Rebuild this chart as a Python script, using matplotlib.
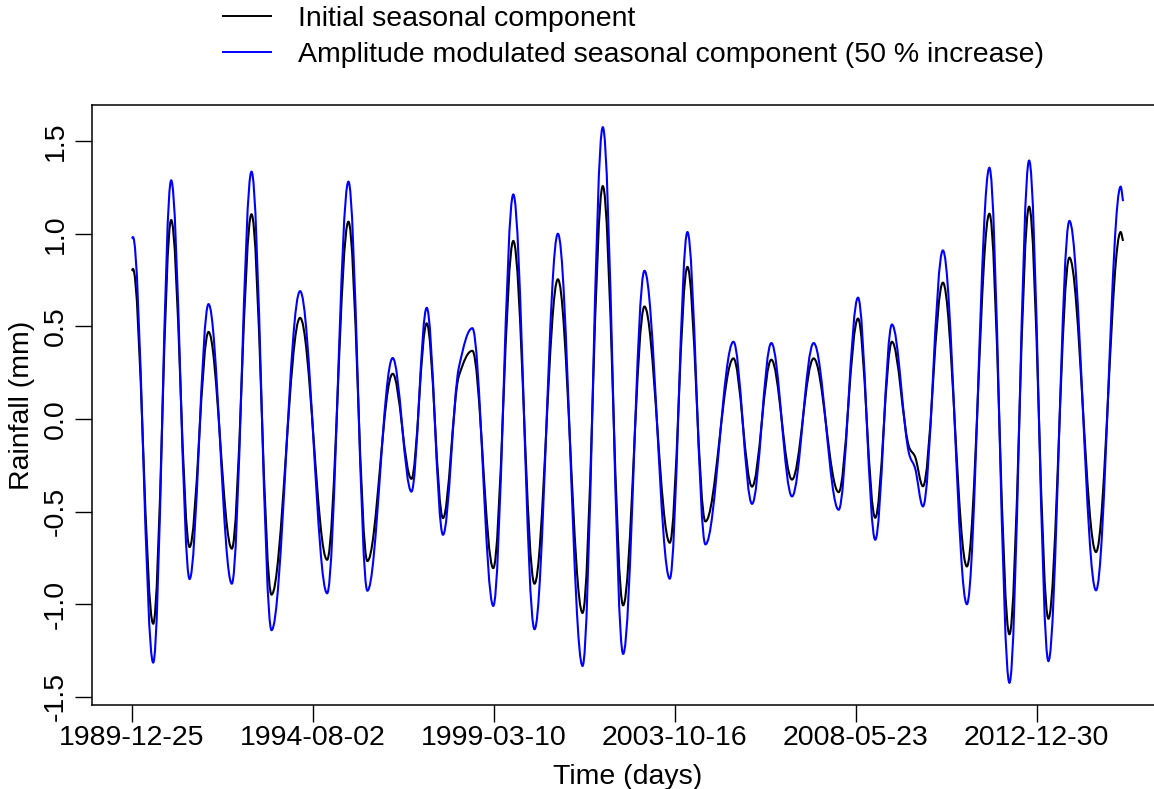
import numpy as np
import matplotlib
matplotlib.use('Agg')
import matplotlib.pyplot as plt
from matplotlib.path import Path
from matplotlib.patches import PathPatch
from matplotlib.lines import Line2D

plt.rcParams['font.family'] = ['Liberation Sans', 'DejaVu Sans']

# Turning points: day index (days since 1989-12-25)
days = [0, 12, 200, 367, 538, 714, 930, 1113, 1299, 1564, 1815, 2013, 2189,
        2424, 2598, 2740, 2891, 3039, 3164, 3358, 3544, 3741, 3958, 4187, 4375,
        4564, 4762, 4997, 5161, 5328, 5588, 5761, 5940, 6132, 6333, 6565, 6745,
        6905, 7060, 7225, 7272, 7348, 7533, 7756, 7965, 8151, 8334, 8513, 8708,
        8955, 9184, 9206]

initial_seasonal = [0.80, 0.81, -1.105, 1.074, -0.691, 0.47, -0.70, 1.105, -0.948,
                    0.546, -0.76, 1.065, -0.767, 0.244, -0.323, 0.516, -0.535, 0.233,
                    0.368, -0.805, 0.961, -0.889, 0.754, -1.047, 1.257, -1.006, 0.607,
                    -0.668, 0.821, -0.553, 0.327, -0.365, 0.32, -0.327, 0.327, -0.395,
                    0.542, -0.533, 0.417, -0.16, -0.20, -0.363, 0.736, -0.796, 1.108,
                    -1.162, 1.146, -1.078, 0.871, -0.718, 1.009, 0.961]

modulated_seasonal = [0.975, 0.982, -1.315, 1.288, -0.864, 0.62, -0.889, 1.335, -1.14,
                      0.69, -0.941, 1.281, -0.927, 0.329, -0.392, 0.60, -0.625, 0.28,
                      0.49, -1.009, 1.212, -1.135, 1.0, -1.333, 1.575, -1.268, 0.80,
                      -0.862, 1.009, -0.677, 0.417, -0.458, 0.41, -0.418, 0.41, -0.49,
                      0.655, -0.652, 0.51, -0.20, -0.26, -0.472, 0.91, -1.0, 1.356,
                      -1.424, 1.395, -1.307, 1.069, -0.925, 1.254, 1.176]

tick_days = [0, 1681, 3362, 5043, 6724, 8405]
tick_labels = ['1989-12-25', '1994-08-02', '1999-03-10', '2003-10-16',
               '2008-05-23', '2012-12-30']
y_ticks = [-1.5, -1.0, -0.5, 0.0, 0.5, 1.0, 1.5]
y_tick_labels = ['-1.5', '-1.0', '-0.5', '0.0', '0.5', '1.0', '1.5']
legend_labels = ['Initial seasonal component',
                 'Amplitude modulated seasonal component (50 % increase)']

FS = 20.5


def smooth_path(x, y, k=0.36):
    """Smooth Bezier path passing through the read turning points."""
    x = np.asarray(x, float)
    y = np.asarray(y, float)
    h = np.diff(x)
    d = np.diff(y) / h
    m = np.zeros_like(y)
    for i in range(1, len(y) - 1):
        if d[i - 1] * d[i] > 0:
            w1 = 2 * h[i] + h[i - 1]
            w2 = h[i] + 2 * h[i - 1]
            m[i] = (w1 + w2) / (w1 / d[i - 1] + w2 / d[i])
    m[-1] = d[-1]
    verts = [(x[0], y[0])]
    codes = [Path.MOVETO]
    for i in range(len(h)):
        verts.append((x[i] + k * h[i], y[i] + k * h[i] * m[i]))
        verts.append((x[i + 1] - k * h[i], y[i + 1] - k * h[i] * m[i + 1]))
        verts.append((x[i + 1], y[i + 1]))
        codes += [Path.CURVE4] * 3
    return Path(verts, codes)


fig = plt.figure(figsize=(11.54, 7.89), dpi=100)
W, H = 1154, 789
ax = fig.add_axes([92 / W, 84 / H, (1162.7 - 92) / W, 600 / H])

ax.add_patch(PathPatch(smooth_path(days, initial_seasonal), facecolor='none',
                       edgecolor='black', lw=1.5, zorder=2))
ax.add_patch(PathPatch(smooth_path(days, modulated_seasonal), facecolor='none',
                       edgecolor='#0000FF', lw=1.5, zorder=3))

# R-style 4% padding
xr = days[-1] - days[0]
ax.set_xlim(days[0] - 0.04 * xr, days[-1] + 0.04 * xr)
ymin = min(min(initial_seasonal), min(modulated_seasonal))
ymax = max(max(initial_seasonal), max(modulated_seasonal))
yr = ymax - ymin
ax.set_ylim(ymin - 0.04 * yr, ymax + 0.04 * yr)

ax.set_xticks(tick_days)
ax.set_xticklabels(tick_labels)
ax.set_yticks(y_ticks)
ax.set_yticklabels(y_tick_labels, rotation=90, va='center')
ax.tick_params(axis='both', direction='out', length=12.5, width=1.0,
               labelsize=FS, colors='black')
ax.tick_params(axis='x', pad=2)
ax.tick_params(axis='y', pad=4)
for s in ax.spines.values():
    s.set_linewidth(1.1)
    s.set_color('black')

ax.set_xlabel('Time (days)', fontsize=FS, labelpad=9)
ax.set_ylabel('Rainfall (mm)', fontsize=FS, labelpad=6)

handles = [Line2D([], [], color='black', lw=1.4),
           Line2D([], [], color='#0000FF', lw=1.4)]
fig.legend(handles, legend_labels, loc='upper left',
           bbox_to_anchor=(223 / W, 1 - 6 / H), frameon=False, fontsize=FS,
           handlelength=1.7, handletextpad=0.93, labelspacing=0.36,
           borderpad=0, borderaxespad=0)

fig.savefig('out.png', dpi=100)
